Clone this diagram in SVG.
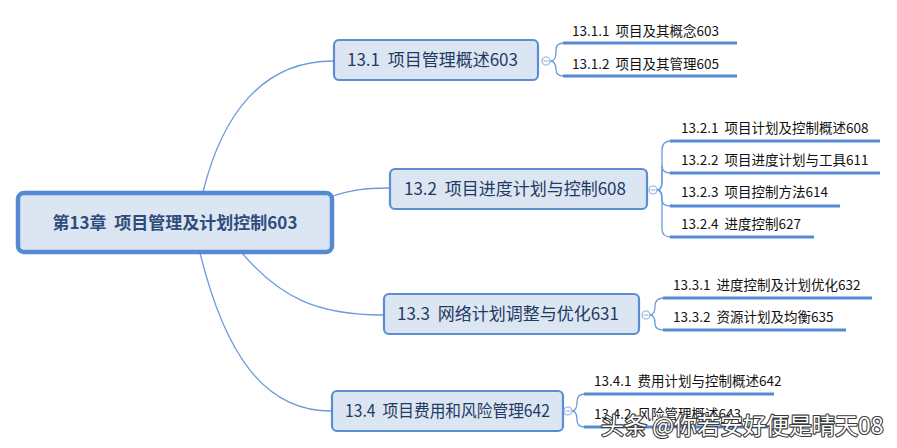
<svg xmlns="http://www.w3.org/2000/svg" width="897" height="448" viewBox="0 0 897 448">
<style>
text{white-space:pre}
.box{fill:#dce6f2;stroke:#5b8dd3;stroke-width:2.2}
.root{fill:#dce6f2;stroke:#5689d3;stroke-width:4.5}
.t{font-family:"Microsoft YaHei","Noto Sans CJK SC","Noto Sans",sans-serif;fill:#1f3a63}
.bt{font-size:17px}
.rt{font-size:17px;font-weight:bold;fill:#2e4d7c}
.st{font-family:"Microsoft YaHei","Noto Sans CJK SC","Noto Sans",sans-serif;font-size:13.5px;fill:#111}
.con{fill:none;stroke:#6b9bdb;stroke-width:1.3}
.ul{stroke:#5689d3;stroke-width:3.2}
.cc{fill:#fff;stroke:#8fb0e0;stroke-width:1.2}
.wm{font-family:"Noto Sans CJK SC",sans-serif;font-size:23px;fill:#fff;stroke:#3a3a3a;stroke-width:2.2;stroke-linejoin:round;paint-order:stroke}
</style>
<rect width="897" height="448" fill="#fff"/>
<g id="connectors">
<path class="con" d="M203,192 C222,115 262,61 333,61"/>
<path class="con" d="M330,197 C350,190 365,188 389,188"/>
<path class="con" d="M242,253 C280,298 318,315 383,315"/>
<path class="con" d="M200,253 C224,350 262,411 331,411"/>
<path class="con" d="M550,61 C556,61 556,55 556,50 Q556,43 564,43"/>
<path class="con" d="M550,61 C556,61 556,67 556,70 Q556,76 564,76"/>
<path class="con" d="M657,190 C662,190 662,184 662,178 L662,150 Q662,141 671,141"/>
<path class="con" d="M657,190 C662,190 662,184 662,178 L662,166 Q662,173 671,173"/>
<path class="con" d="M657,190 C662,190 662,196 662,200 Q662,206 671,206"/>
<path class="con" d="M657,190 C662,190 662,196 662,202 L662,229 Q662,237 671,237"/>
<path class="con" d="M650,315 C655,315 655,309 655,306 Q655,298 664,298"/>
<path class="con" d="M650,315 C655,315 655,321 655,324 Q655,330 664,330"/>
<path class="con" d="M572,411 C577,411 577,405 577,402 Q577,394 585,394"/>
<path class="con" d="M572,411 C577,411 577,417 577,420 Q577,427 585,427"/>
</g>
<g id="root">
<rect class="root" x="18" y="193" width="314" height="59" rx="6"/>
<text class="t rt" x="175" y="229" text-anchor="middle">第13章  项目管理及计划控制603</text>
</g>
<g id="n13_1">
<rect class="box" x="334" y="40" width="204" height="40" rx="5"/>
<text class="t bt" x="347" y="66">13.1  项目管理概述603</text>
<circle class="cc" cx="546" cy="61" r="4"/><line x1="543.5" y1="61" x2="548.5" y2="61" stroke="#8fb0e0"/>
</g>
<g id="n13_1_1"><text class="st" x="572" y="36">13.1.1  项目及其概念603</text><line class="ul" x1="563" y1="43" x2="737" y2="43"/></g>
<g id="n13_1_2"><text class="st" x="572" y="69">13.1.2  项目及其管理605</text><line class="ul" x1="563" y1="76" x2="737" y2="76"/></g>
<g id="n13_2">
<rect class="box" x="390" y="169" width="257" height="40" rx="5"/>
<text class="t bt" x="404" y="195">13.2  项目进度计划与控制608</text>
<circle class="cc" cx="653" cy="190" r="4"/><line x1="650.5" y1="190" x2="655.5" y2="190" stroke="#8fb0e0"/>
</g>
<g id="n13_2_1"><text class="st" x="681" y="133">13.2.1  项目计划及控制概述608</text><line class="ul" x1="670" y1="141" x2="880" y2="141"/></g>
<g id="n13_2_2"><text class="st" x="681" y="165">13.2.2  项目进度计划与工具611</text><line class="ul" x1="670" y1="173" x2="880" y2="173"/></g>
<g id="n13_2_3"><text class="st" x="681" y="197">13.2.3  项目控制方法614</text><line class="ul" x1="670" y1="206" x2="840" y2="206"/></g>
<g id="n13_2_4"><text class="st" x="681" y="229">13.2.4  进度控制627</text><line class="ul" x1="670" y1="237" x2="814" y2="237"/></g>
<g id="n13_3">
<rect class="box" x="384" y="294" width="255" height="40" rx="5"/>
<text class="t bt" x="397" y="320">13.3  网络计划调整与优化631</text>
<circle class="cc" cx="646" cy="315" r="4"/><line x1="643.5" y1="315" x2="648.5" y2="315" stroke="#8fb0e0"/>
</g>
<g id="n13_3_1"><text class="st" x="673" y="290">13.3.1  进度控制及计划优化632</text><line class="ul" x1="663" y1="298" x2="872" y2="298"/></g>
<g id="n13_3_2"><text class="st" x="673" y="322">13.3.2  资源计划及均衡635</text><line class="ul" x1="663" y1="330" x2="846" y2="330"/></g>
<g id="n13_4">
<rect class="box" x="332" y="391" width="231" height="40" rx="5"/>
<text class="t bt" x="345" y="417" textLength="205" lengthAdjust="spacingAndGlyphs">13.4  项目费用和风险管理642</text>
<circle class="cc" cx="568" cy="411" r="4"/><line x1="565.5" y1="411" x2="570.5" y2="411" stroke="#8fb0e0"/>
</g>
<g id="n13_4_1"><text class="st" x="594" y="386">13.4.1  费用计划与控制概述642</text><line class="ul" x1="584" y1="394" x2="774" y2="394"/></g>
<g id="n13_4_2"><text class="st" x="594" y="419">13.4.2  风险管理概述643</text><line class="ul" x1="584" y1="427" x2="768" y2="427"/></g>
<text class="wm" x="601" y="434">头条 @你若安好便是晴天08</text>
</svg>
